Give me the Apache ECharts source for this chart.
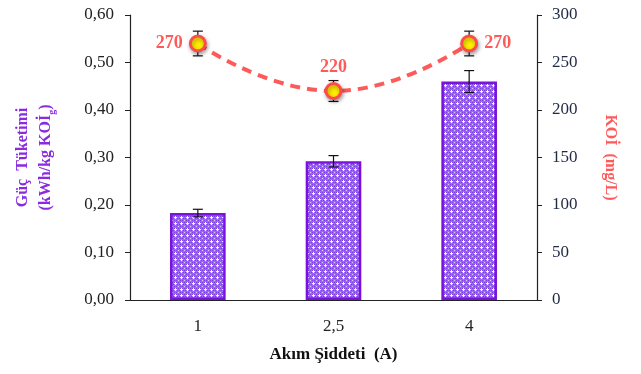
<!DOCTYPE html>
<html>
<head>
<meta charset="utf-8">
<script src="https://cdn.jsdelivr.net/npm/echarts@6/dist/echarts.min.js"></script>
<style>
  html, body { margin: 0; padding: 0; background: #fff; }
  #chart { width: 641px; height: 374px; }
</style>
</head>
<body>
<div id="chart"></div>
<script>
// Akım şiddetine göre güç tüketimi ve KOİ
const categories = ['1', '2,5', '4'];
const powerValues = [0.183, 0.292, 0.460];
const powerErrors = [0.008, 0.012, 0.023];
const codValues = [270, 220, 270];
const codErrors = [13, 11, 13];
const leftTicks = { min: 0, max: 0.6, interval: 0.1 };
const rightTicks = { min: 0, max: 300, interval: 50 };

const FONT = '"Liberation Serif", "Times New Roman", serif';

// Noktalı mor dolgu deseni
function makePattern() {
  const c = document.createElement('canvas');
  c.width = 6; c.height = 6;
  const g = c.getContext('2d');
  g.fillStyle = '#9c6af0';
  g.fillRect(0, 0, 6, 6);
  g.fillStyle = '#7e3ee2';
  for (let y = 0; y < 6; y += 2) for (let x = (y / 2) % 2; x < 6; x += 2) g.fillRect(x, y, 1, 1);
  g.fillStyle = '#ffffff';
  g.fillRect(1, 1, 1, 1);
  g.fillRect(0, 1, 1, 1); g.fillRect(2, 1, 1, 1); g.fillRect(1, 0, 1, 1); g.fillRect(1, 2, 1, 1);
  g.fillStyle = '#dcc8fb';
  g.fillRect(4, 4, 1, 1);
  return c;
}

function errorBarRenderer(values, errors) {
  return function (params, api) {
    const i = params.dataIndex;
    const x = api.coord([i, values[i]])[0];
    const top = api.coord([i, values[i] + errors[i]])[1];
    const bot = api.coord([i, values[i] - errors[i]])[1];
    const hw = 5;
    const style = { stroke: '#111', lineWidth: 1.2 };
    return {
      type: 'group',
      children: [
        { type: 'line', shape: { x1: x, y1: top, x2: x, y2: bot }, style },
        { type: 'line', shape: { x1: x - hw, y1: top, x2: x + hw, y2: top }, style },
        { type: 'line', shape: { x1: x - hw, y1: bot, x2: x + hw, y2: bot }, style }
      ]
    };
  };
}

const chart = echarts.init(document.getElementById('chart'), null, { renderer: 'canvas' });

const labelPos = ['left', 'top', 'right'];

chart.setOption({
  animation: false,
  textStyle: { fontFamily: FONT },
  grid: { left: 130, right: 104, top: 15, bottom: 74, containLabel: false, outerBoundsMode: 'none' },
  xAxis: {
    type: 'category',
    data: categories,
    name: 'Akım Şiddeti  (A)',
    nameLocation: 'middle',
    nameGap: 46,
    nameTextStyle: { fontFamily: FONT, fontWeight: 'bold', fontSize: 17, color: '#111' },
    axisLine: { lineStyle: { color: '#222', width: 1.2 } },
    axisTick: { show: false },
    axisLabel: { fontFamily: FONT, fontSize: 17, color: '#222', margin: 18 }
  },
  yAxis: [
    {
      type: 'value',
      min: leftTicks.min, max: leftTicks.max, interval: leftTicks.interval,
      position: 'left',
      name: '{a|Güç  Tüketimi}\n{a|(kWh/kg KOİ}{s|g}{a|)}',
      nameLocation: 'middle',
      nameRotate: 90,
      nameGap: 73,
      nameTextStyle: {
        rich: {
          a: { fontFamily: FONT, fontWeight: 'bold', fontSize: 16, color: '#8a2be2', lineHeight: 23 },
          s: { fontFamily: FONT, fontWeight: 'bold', fontSize: 10, color: '#8a2be2', lineHeight: 16, verticalAlign: 'bottom' }
        }
      },
      splitLine: { show: false },
      axisLine: { show: true, lineStyle: { color: '#222', width: 1.2 } },
      axisTick: { show: true, length: 5, lineStyle: { color: '#222' } },
      axisLabel: {
        fontFamily: FONT, fontSize: 17, color: '#222', margin: 16,
        formatter: v => v.toFixed(2).replace('.', ',')
      }
    },
    {
      type: 'value',
      min: rightTicks.min, max: rightTicks.max, interval: rightTicks.interval,
      position: 'right',
      name: 'KOİ  (mg/L)',
      nameLocation: 'middle',
      nameRotate: -90,
      nameGap: 65,
      nameTextStyle: { fontFamily: FONT, fontWeight: 'bold', fontSize: 16, color: '#ff5a5a' },
      splitLine: { show: false },
      axisLine: { show: true, lineStyle: { color: '#222', width: 1.2 } },
      axisTick: { show: true, length: 5, lineStyle: { color: '#222' } },
      axisLabel: { fontFamily: FONT, fontSize: 17, color: '#1f2a44', margin: 15 }
    }
  ],
  series: [
    {
      type: 'bar',
      yAxisIndex: 0,
      data: powerValues,
      barWidth: '41%',
      itemStyle: {
        color: { image: makePattern(), repeat: 'repeat' },
        borderColor: '#7a12dc',
        borderWidth: 2.5
      },
      z: 2
    },
    {
      type: 'custom',
      yAxisIndex: 0,
      data: powerValues.map((v, i) => [i, v]),
      renderItem: errorBarRenderer(powerValues, powerErrors),
      z: 3
    },
    {
      type: 'custom',
      yAxisIndex: 1,
      data: codValues.map((v, i) => [i, v]),
      renderItem: errorBarRenderer(codValues, codErrors),
      z: 4
    },
    {
      type: 'line',
      yAxisIndex: 1,
      smooth: 0.5,
      data: codValues.map((v, i) => ({
        value: v,
        label: { position: labelPos[i] }
      })),
      symbol: 'circle',
      symbolSize: 15,
      lineStyle: { color: '#ff5a5a', width: 4, type: [10, 7] },
      itemStyle: {
        color: '#ffee00', borderColor: '#ff4a4a', borderWidth: 3,
        shadowBlur: 4, shadowColor: 'rgba(0,0,0,0.35)', shadowOffsetX: 1, shadowOffsetY: 2
      },
      label: {
        show: true,
        fontFamily: FONT, fontWeight: 'bold', fontSize: 18, color: '#ff5a5a',
        distance: 6
      },
      z: 5
    }
  ]
});
</script>
</body>
</html>
